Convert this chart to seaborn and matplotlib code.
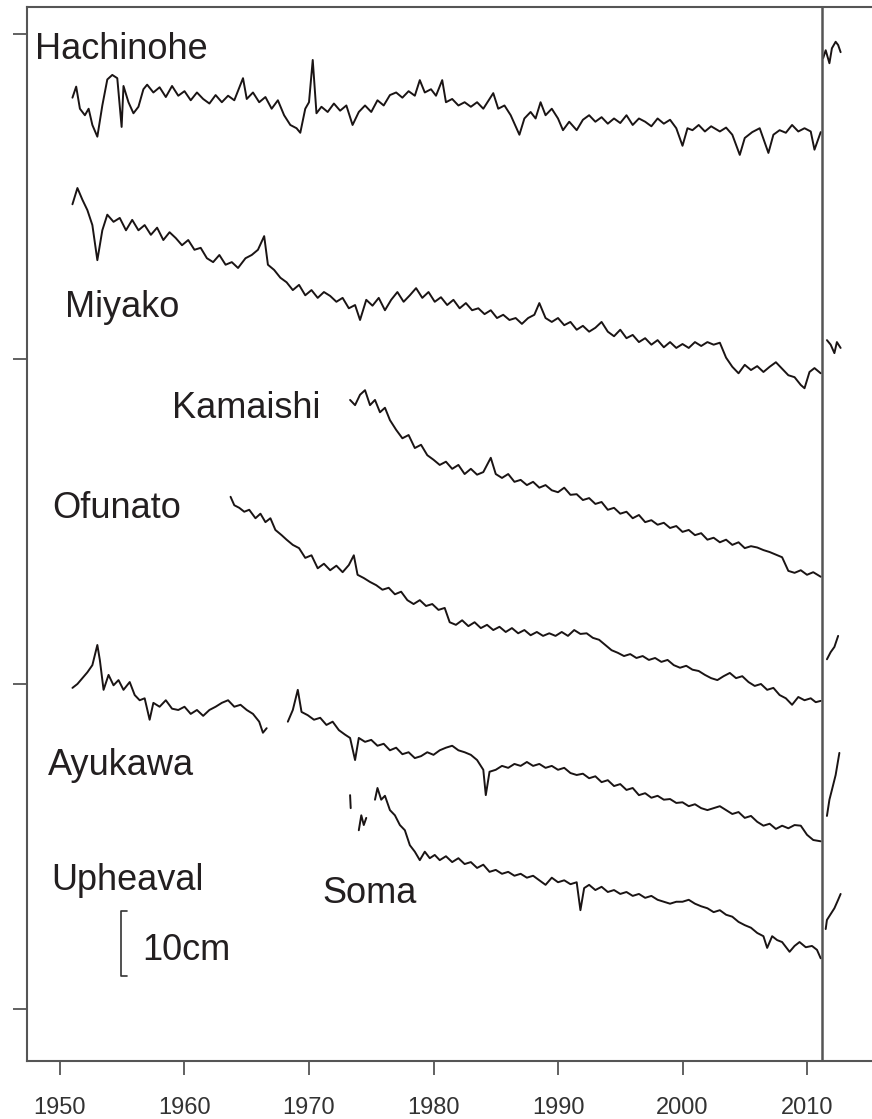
import pandas as pd
import numpy as np
import matplotlib
matplotlib.use("Agg")
import matplotlib.pyplot as plt
import seaborn as sns

# tide gauge records, plotted heights in cm (stations stacked with offsets)
hachinohe_year = [1951.0, 1951.3, 1951.6, 1952.0, 1952.3, 1952.6, 1953.0, 1953.4, 1953.8, 1954.2,
                  1954.6, 1954.95, 1955.1, 1955.5, 1955.9, 1956.3, 1956.7, 1957.0, 1957.5, 1958.0,
                  1958.5, 1959.0, 1959.5, 1960.0, 1960.5, 1961.0, 1961.5, 1962.0, 1962.5, 1963.0,
                  1963.5, 1964.0, 1964.7, 1965.0, 1965.5, 1966.0, 1966.5, 1967.0, 1967.5, 1968.0,
                  1968.5, 1969.0, 1969.3, 1969.7, 1970.0, 1970.3, 1970.6, 1971.0, 1971.5, 1972.0,
                  1972.5, 1973.0, 1973.5, 1974.0, 1974.5, 1975.0, 1975.5, 1976.0, 1976.5, 1977.0,
                  1977.5, 1978.0, 1978.5, 1978.9, 1979.3, 1979.8, 1980.2, 1980.7, 1981.0, 1981.5,
                  1982.0, 1982.5, 1983.0, 1983.5, 1984.0, 1984.8, 1985.2, 1985.7, 1986.2, 1986.9,
                  1987.3, 1987.8, 1988.2, 1988.6, 1989.0, 1989.5, 1990.0, 1990.4, 1990.9, 1991.5,
                  1992.0, 1992.5, 1993.0, 1993.5, 1994.0, 1994.5, 1995.0, 1995.5, 1996.0, 1996.5,
                  1997.0, 1997.5, 1998.0, 1998.5, 1999.0, 1999.5, 2000.0, 2000.4, 2000.8, 2001.3,
                  2001.8, 2002.3, 2003.0, 2003.5, 2004.0, 2004.6, 2005.0, 2005.6, 2006.2, 2006.9,
                  2007.3, 2007.8, 2008.3, 2008.8, 2009.3, 2009.8, 2010.3, 2010.6, 2011.1]
hachinohe_cm = [140.2, 141.9, 138.5, 137.5, 138.5, 136.0, 134.2, 139.0, 143.0, 143.7,
                143.2, 135.7, 142.0, 139.5, 137.8, 138.8, 141.5, 142.2, 141.0, 141.8,
                140.3, 142.0, 140.5, 141.2, 139.8, 141.0, 140.0, 139.3, 140.6, 139.5,
                140.5, 139.8, 143.2, 140.0, 141.0, 139.5, 140.3, 138.5, 139.8, 137.5,
                136.0, 135.5, 134.8, 138.5, 139.5, 146.0, 137.8, 138.8, 138.0, 139.3,
                138.2, 139.0, 136.0, 138.0, 139.0, 138.0, 139.8, 139.0, 140.6, 141.0,
                140.2, 141.2, 140.5, 142.9, 141.0, 141.5, 140.5, 142.9, 139.5, 140.0,
                139.0, 139.5, 138.8, 139.5, 138.5, 140.9, 138.5, 139.0, 137.5, 134.5,
                137.0, 138.0, 137.0, 139.5, 137.5, 138.5, 137.0, 135.2, 136.5, 135.2,
                136.8, 137.5, 136.5, 137.2, 136.2, 137.0, 136.3, 137.5, 136.0, 137.0,
                136.5, 135.8, 137.0, 136.2, 136.8, 135.5, 132.8, 135.5, 135.2, 136.0,
                135.0, 135.8, 135.0, 135.6, 134.5, 131.4, 134.0, 134.9, 135.5, 131.7,
                134.5, 135.2, 134.8, 136.0, 135.0, 135.5, 135.0, 132.2, 134.9]
hachinohe_post_year = [2011.3, 2011.5, 2011.8, 2012.0, 2012.3, 2012.5, 2012.7]
hachinohe_post_cm = [146.3, 147.5, 145.5, 147.8, 148.8, 148.3, 147.2]

miyako_year = [1951.0, 1951.4, 1951.8, 1952.2, 1952.6, 1953.0, 1953.4, 1953.8, 1954.3, 1954.8,
               1955.3, 1955.8, 1956.3, 1956.8, 1957.3, 1957.8, 1958.3, 1958.8, 1959.3, 1959.8,
               1960.3, 1960.8, 1961.3, 1961.8, 1962.3, 1962.8, 1963.3, 1963.8, 1964.3, 1964.9,
               1965.4, 1965.9, 1966.4, 1966.7, 1967.2, 1967.7, 1968.2, 1968.7, 1969.2, 1969.7,
               1970.2, 1970.7, 1971.2, 1971.7, 1972.2, 1972.7, 1973.2, 1973.7, 1974.1, 1974.6,
               1975.1, 1975.6, 1976.1, 1976.6, 1977.1, 1977.6, 1978.1, 1978.6, 1979.1, 1979.6,
               1980.1, 1980.6, 1981.1, 1981.6, 1982.1, 1982.6, 1983.1, 1983.6, 1984.1, 1984.6,
               1985.1, 1985.6, 1986.1, 1986.6, 1987.1, 1987.6, 1988.1, 1988.5, 1989.0, 1989.5,
               1990.0, 1990.5, 1991.0, 1991.5, 1992.0, 1992.5, 1993.0, 1993.5, 1994.0, 1994.5,
               1995.0, 1995.5, 1996.0, 1996.5, 1997.0, 1997.5, 1998.0, 1998.5, 1999.0, 1999.5,
               2000.0, 2000.5, 2001.0, 2001.5, 2002.0, 2002.5, 2003.0, 2003.5, 2004.0, 2004.5,
               2005.0, 2005.5, 2006.0, 2006.5, 2007.0, 2007.5, 2008.0, 2008.5, 2009.0, 2009.5,
               2009.8, 2010.2, 2010.6, 2011.1]
miyako_cm = [123.8, 126.3, 124.5, 122.9, 120.6, 115.2, 119.8, 122.2, 121.1, 121.7,
             119.8, 121.4, 119.8, 120.6, 119.1, 120.2, 118.3, 119.5, 118.6, 117.5,
             118.3, 116.8, 117.1, 115.5, 114.9, 116.0, 114.5, 114.9, 114.0, 115.5,
             116.0, 116.8, 118.9, 114.5, 113.7, 112.5, 111.8, 110.6, 111.4, 109.8,
             110.6, 109.4, 110.3, 109.7, 108.8, 109.4, 107.8, 108.3, 106.0, 109.1,
             108.2, 109.4, 107.5, 109.1, 110.3, 108.8, 109.8, 110.9, 109.4, 110.3,
             108.8, 109.5, 108.3, 109.1, 107.8, 108.6, 107.5, 107.8, 106.9, 107.5,
             106.3, 106.8, 106.0, 106.3, 105.4, 106.3, 106.8, 108.6, 106.3, 105.7,
             106.3, 105.2, 105.7, 104.5, 105.1, 104.2, 104.8, 105.7, 104.2, 103.5,
             104.5, 103.2, 103.7, 102.6, 103.2, 102.2, 102.9, 101.8, 102.6, 101.7,
             102.3, 101.7, 102.6, 102.0, 102.6, 102.2, 102.5, 100.2, 98.8, 97.8,
             99.1, 98.3, 98.9, 98.0, 98.8, 99.5, 98.5, 97.5, 97.2, 96.0,
             95.5, 98.0, 98.6, 97.8]
miyako_post_year = [2011.6, 2011.9, 2012.2, 2012.4, 2012.7]
miyako_post_cm = [102.9, 102.2, 100.9, 102.6, 101.7]

kamaishi_year = [1973.3, 1973.7, 1974.1, 1974.5, 1974.9, 1975.3, 1975.7, 1976.1, 1976.5, 1977.0,
                 1977.5, 1978.0, 1978.5, 1979.0, 1979.5, 1980.0, 1980.5, 1981.0, 1981.5, 1982.0,
                 1982.5, 1983.0, 1983.5, 1984.0, 1984.6, 1985.0, 1985.5, 1986.0, 1986.5, 1987.0,
                 1987.5, 1988.0, 1988.5, 1989.0, 1989.5, 1990.0, 1990.5, 1991.0, 1991.5, 1992.0,
                 1992.5, 1993.0, 1993.5, 1994.0, 1994.5, 1995.0, 1995.5, 1996.0, 1996.5, 1997.0,
                 1997.5, 1998.0, 1998.5, 1999.0, 1999.5, 2000.0, 2000.5, 2001.0, 2001.5, 2002.0,
                 2002.5, 2003.0, 2003.5, 2004.0, 2004.5, 2005.0, 2005.5, 2006.0, 2006.5, 2007.0,
                 2007.5, 2008.0, 2008.5, 2009.0, 2009.5, 2010.0, 2010.5, 2011.1]
kamaishi_cm = [93.7, 92.9, 94.5, 95.2, 92.9, 93.7, 91.8, 92.5, 90.6, 89.1,
               87.8, 88.3, 86.3, 86.8, 85.2, 84.5, 83.7, 84.2, 83.1, 83.7,
               82.3, 83.1, 82.2, 82.6, 84.8, 82.3, 81.7, 82.3, 81.1, 81.4,
               80.6, 81.1, 80.2, 80.6, 79.8, 79.5, 80.2, 79.1, 79.2, 78.3,
               78.6, 77.7, 78.0, 76.8, 77.1, 76.2, 76.5, 75.5, 76.0, 74.9,
               75.2, 74.5, 74.8, 74.0, 74.3, 73.4, 73.7, 72.9, 73.2, 72.2,
               72.5, 71.8, 72.2, 71.4, 71.8, 70.9, 71.2, 71.0, 70.6, 70.3,
               69.9, 69.5, 67.4, 67.1, 67.5, 66.8, 67.2, 66.5]

ofunato_year = [1963.7, 1964.0, 1964.4, 1964.8, 1965.2, 1965.7, 1966.1, 1966.5, 1966.9, 1967.3,
                1967.8, 1968.2, 1968.7, 1969.2, 1969.7, 1970.2, 1970.7, 1971.2, 1971.7, 1972.2,
                1972.7, 1973.2, 1973.6, 1973.9, 1974.4, 1974.9, 1975.4, 1975.9, 1976.4, 1976.9,
                1977.4, 1977.9, 1978.4, 1978.9, 1979.4, 1979.9, 1980.4, 1980.9, 1981.3, 1981.8,
                1982.3, 1982.8, 1983.3, 1983.8, 1984.3, 1984.8, 1985.3, 1985.8, 1986.3, 1986.8,
                1987.3, 1987.8, 1988.3, 1988.8, 1989.3, 1989.8, 1990.3, 1990.8, 1991.3, 1991.8,
                1992.3, 1992.8, 1993.3, 1993.8, 1994.3, 1994.8, 1995.3, 1995.8, 1996.3, 1996.8,
                1997.3, 1997.8, 1998.3, 1998.8, 1999.3, 1999.8, 2000.3, 2000.8, 2001.3, 2001.8,
                2002.3, 2002.8, 2003.3, 2003.8, 2004.3, 2004.8, 2005.3, 2005.8, 2006.3, 2006.8,
                2007.3, 2007.8, 2008.3, 2008.8, 2009.3, 2009.8, 2010.3, 2010.7, 2011.1]
ofunato_cm = [78.8, 77.5, 77.1, 76.5, 76.8, 75.5, 76.2, 74.9, 75.5, 73.7,
              72.9, 72.2, 71.4, 70.9, 69.4, 69.8, 67.8, 68.5, 67.5, 68.2,
              67.2, 68.3, 69.8, 66.8, 66.3, 65.7, 65.2, 64.5, 64.8, 63.8,
              64.2, 62.9, 62.3, 62.9, 62.0, 62.3, 61.4, 61.7, 59.5, 59.1,
              59.8, 58.9, 59.5, 58.6, 59.1, 58.3, 58.8, 58.0, 58.6, 57.8,
              58.3, 57.5, 58.0, 57.4, 57.8, 57.4, 58.0, 57.4, 58.3, 57.7,
              57.8, 57.1, 56.8, 56.0, 55.2, 54.8, 54.3, 54.6, 54.0, 54.3,
              53.7, 54.0, 53.4, 53.7, 52.9, 52.5, 52.8, 52.2, 52.0, 51.4,
              50.9, 50.6, 51.2, 51.7, 50.9, 51.2, 50.3, 49.7, 50.0, 49.1,
              49.4, 48.3, 47.8, 46.8, 48.0, 47.5, 47.8, 47.2, 47.4]
ofunato_post_year = [2011.6, 2011.9, 2012.2, 2012.5]
ofunato_post_cm = [53.8, 54.9, 55.7, 57.4]

ayukawa_year_a = [1951.0, 1951.4, 1951.8, 1952.2, 1952.6, 1953.0, 1953.2, 1953.5, 1953.9, 1954.3,
                  1954.7, 1955.1, 1955.6, 1956.0, 1956.4, 1956.8, 1957.2, 1957.5, 1958.0, 1958.5,
                  1959.0, 1959.5, 1960.0, 1960.5, 1961.0, 1961.5, 1962.0, 1962.5, 1963.0, 1963.5,
                  1964.0, 1964.5, 1965.0, 1965.5, 1966.0, 1966.3, 1966.6]
ayukawa_cm_a = [49.4, 50.0, 50.9, 51.8, 52.9, 56.0, 53.7, 49.1, 51.4, 49.8,
                50.6, 49.1, 50.3, 48.3, 47.5, 47.8, 44.5, 47.1, 46.5, 47.5,
                46.2, 46.0, 46.5, 45.4, 46.0, 45.1, 46.0, 46.5, 47.1, 47.5,
                46.5, 46.8, 46.0, 45.4, 44.2, 42.5, 43.2]
ayukawa_year_b = [1968.3, 1968.7, 1969.1, 1969.4, 1969.9, 1970.4, 1970.9, 1971.4, 1971.9, 1972.4,
                  1972.9, 1973.3, 1973.7, 1974.0, 1974.5, 1975.0, 1975.5, 1976.0, 1976.5, 1977.0,
                  1977.5, 1978.0, 1978.5, 1979.0, 1979.5, 1980.0, 1980.5, 1981.0, 1981.5, 1982.0,
                  1982.5, 1983.0, 1983.5, 1984.0, 1984.2, 1984.5, 1985.0, 1985.5, 1986.0, 1986.5,
                  1987.0, 1987.5, 1988.0, 1988.5, 1989.0, 1989.5, 1990.0, 1990.5, 1991.0, 1991.5,
                  1992.0, 1992.5, 1993.0, 1993.5, 1994.0, 1994.5, 1995.0, 1995.5, 1996.0, 1996.5,
                  1997.0, 1997.5, 1998.0, 1998.5, 1999.0, 1999.5, 2000.0, 2000.5, 2001.0, 2001.5,
                  2002.0, 2002.5, 2003.0, 2003.5, 2004.0, 2004.5, 2005.0, 2005.5, 2006.0, 2006.5,
                  2007.0, 2007.5, 2008.0, 2008.5, 2009.0, 2009.5, 2010.0, 2010.5, 2011.1]
ayukawa_cm_b = [44.2, 46.0, 49.1, 45.7, 45.2, 44.5, 44.8, 43.7, 44.2, 42.9,
                42.2, 41.7, 38.3, 41.7, 41.1, 41.4, 40.5, 40.8, 39.8, 40.2,
                39.2, 39.5, 38.6, 38.9, 39.5, 39.1, 39.8, 40.2, 40.5, 39.8,
                39.5, 39.1, 38.3, 36.8, 32.9, 36.5, 36.8, 37.4, 37.1, 37.7,
                37.4, 38.0, 37.4, 37.7, 37.1, 37.4, 36.8, 37.1, 36.3, 36.0,
                36.2, 35.5, 35.8, 34.9, 35.2, 34.3, 34.6, 33.7, 34.0, 32.9,
                33.2, 32.5, 32.8, 32.2, 32.3, 31.7, 31.8, 31.2, 31.5, 30.9,
                30.6, 30.9, 31.2, 30.6, 30.0, 30.3, 29.4, 29.7, 28.8, 28.2,
                28.5, 27.7, 28.2, 27.8, 28.3, 28.2, 26.8, 26.0, 25.8]
ayukawa_post_year = [2011.6, 2011.8, 2012.0, 2012.3, 2012.6]
ayukawa_post_cm = [29.7, 32.2, 33.7, 36.0, 39.4]

soma_year_a = [1973.3, 1973.35]
soma_cm_a = [32.9, 30.9]
soma_year_b = [1974.0, 1974.2, 1974.4, 1974.6]
soma_cm_b = [27.5, 29.8, 28.3, 29.4]
soma_year_c = [1975.3, 1975.5, 1975.8, 1976.1, 1976.5, 1976.9, 1977.3, 1977.7, 1978.1, 1978.5,
               1978.9, 1979.3, 1979.7, 1980.1, 1980.5, 1981.0, 1981.5, 1982.0, 1982.5, 1983.0,
               1983.5, 1984.0, 1984.5, 1985.0, 1985.5, 1986.0, 1986.5, 1987.0, 1987.5, 1988.0,
               1988.5, 1989.0, 1989.5, 1990.0, 1990.5, 1991.0, 1991.5, 1991.8, 1992.1, 1992.5,
               1993.0, 1993.5, 1994.0, 1994.5, 1995.0, 1995.5, 1996.0, 1996.5, 1997.0, 1997.5,
               1998.0, 1998.5, 1999.0, 1999.5, 2000.0, 2000.5, 2001.0, 2001.5, 2002.0, 2002.5,
               2003.0, 2003.5, 2004.0, 2004.5, 2005.0, 2005.5, 2006.0, 2006.5, 2006.8, 2007.2,
               2007.6, 2008.0, 2008.6, 2009.0, 2009.4, 2009.9, 2010.4, 2010.8, 2011.1]
soma_cm_c = [32.2, 34.0, 32.2, 32.8, 30.6, 29.8, 28.3, 27.5, 25.2, 24.2,
             22.9, 24.2, 23.2, 23.7, 22.9, 23.5, 22.6, 23.2, 22.3, 22.6,
             21.7, 22.2, 21.1, 21.4, 20.8, 21.1, 20.5, 20.8, 20.2, 20.5,
             19.8, 19.1, 20.2, 19.5, 19.8, 19.2, 19.5, 15.2, 18.6, 19.1,
             18.3, 18.8, 18.0, 18.3, 17.7, 18.0, 17.4, 17.7, 17.1, 17.4,
             16.8, 16.5, 16.2, 16.5, 16.5, 16.8, 16.2, 15.8, 15.5, 14.9,
             15.2, 14.5, 14.2, 13.4, 12.9, 12.5, 11.7, 11.2, 9.4, 11.2,
             10.6, 10.3, 8.8, 9.7, 10.3, 9.5, 9.7, 9.1, 7.8]
soma_post_year = [2011.5, 2011.6, 2011.9, 2012.2, 2012.5, 2012.7]
soma_post_cm = [12.3, 13.7, 14.6, 15.5, 16.8, 17.7]

# station label text, left edge year and baseline height (cm)
labels = ["Hachinohe", "Miyako", "Kamaishi", "Ofunato", "Ayukawa", "Upheaval", "Soma"]
label_year = [1948.0, 1950.4, 1959.0, 1949.4, 1949.0, 1949.3, 1971.1]
label_cm = [146.2, 106.5, 90.9, 75.5, 36.0, 18.3, 16.3]

quake_year = 2011.2
scale_year = 1954.9
scale_cm = [5.0, 15.0]

segments = [
    (hachinohe_year, hachinohe_cm), (hachinohe_post_year, hachinohe_post_cm),
    (miyako_year, miyako_cm), (miyako_post_year, miyako_post_cm),
    (kamaishi_year, kamaishi_cm),
    (ofunato_year, ofunato_cm), (ofunato_post_year, ofunato_post_cm),
    (ayukawa_year_a, ayukawa_cm_a), (ayukawa_year_b, ayukawa_cm_b),
    (ayukawa_post_year, ayukawa_post_cm),
    (soma_year_a, soma_cm_a), (soma_year_b, soma_cm_b), (soma_year_c, soma_cm_c),
    (soma_post_year, soma_post_cm),
]
rows = []
for i, (yr, cm) in enumerate(segments):
    for a, b in zip(yr, cm):
        rows.append({"seg": i, "year": a, "cm": b})
df = pd.DataFrame(rows)

sns.set_style("ticks")
plt.rcParams['font.family'] = ['Liberation Sans', 'DejaVu Sans']

fig = plt.figure(figsize=(8.72, 11.19), dpi=100)
ax = fig.add_axes([27 / 872, 1 - 1061 / 1119, 845 / 872, 1054 / 1119])

sns.lineplot(data=df, x="year", y="cm", units="seg", estimator=None, sort=False,
             color="#1a1414", lw=1.4, ax=ax, legend=False)

ax.axvline(quake_year, color="#555555", lw=1.8)

# 10 cm scale bar
ax.plot([scale_year + 0.45, scale_year, scale_year, scale_year + 0.45],
        [scale_cm[0], scale_cm[0], scale_cm[1], scale_cm[1]], color="#333333", lw=1.2)
ax.text(1956.6, 7.5, "10cm", fontsize=26, color="#231f20", va="baseline", ha="left")

for t, x, y in zip(labels, label_year, label_cm):
    ax.text(x, y, t, fontsize=26, color="#231f20", va="baseline", ha="left")

ax.set_xlim(1947.35, 2015.22)
ax.set_ylim(-8.0, 154.15)
ax.set_xticks([1950, 1960, 1970, 1980, 1990, 2000, 2010])
ax.set_yticks([0, 50, 100, 150])
ax.set_yticklabels([])
ax.set_xlabel("")
ax.set_ylabel("")
ax.tick_params(axis="both", length=10, width=1.3, color="#555555",
               labelsize=17, labelcolor="#333333", pad=16)
for s in ["left", "bottom", "top"]:
    ax.spines[s].set_color("#555555")
    ax.spines[s].set_linewidth(1.5)
ax.spines["right"].set_visible(False)

fig.savefig("out.png", dpi=100)
